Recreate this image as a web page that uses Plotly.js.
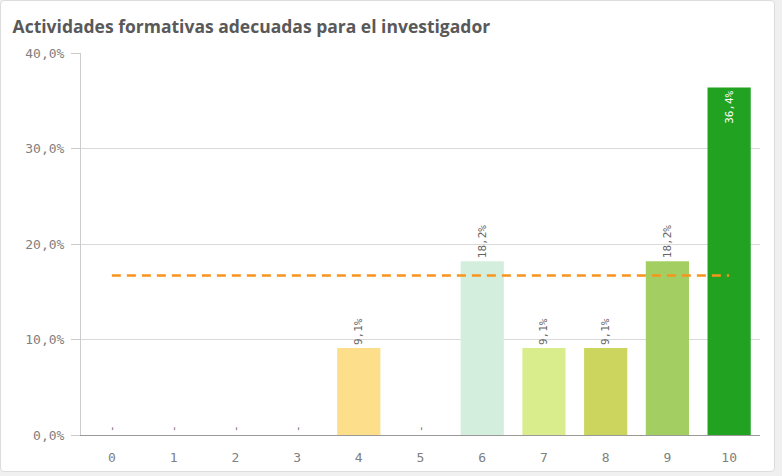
<!DOCTYPE html>
<html>
<head>
<meta charset="utf-8">
<script src="https://cdn.plot.ly/plotly-3.0.1.min.js"></script>
<style>
  html, body { margin: 0; padding: 0; background: #f0f0f0; }
  #card { position: absolute; left: 0; top: 0; width: 773px; height: 470px; background: #fff;
          border: 1px solid #dcdcdc; border-radius: 4px; overflow: hidden; }
  #chart { width: 773px; height: 470px; }
</style>
</head>
<body>
<div id="card"><div id="chart"></div></div>
<script>
const categories = ["0","1","2","3","4","5","6","7","8","9","10"];
const values = [0, 0, 0, 0, 9.1, 0, 18.2, 9.1, 9.1, 18.2, 36.4];
const barColors = ["#fddf8b","#fddf8b","#fddf8b","#fddf8b","#fddf8b","#fddf8b","#d3eedc","#d9ed8c","#ccd65f","#a3cf62","#21a221"];
const referenceValue = 16.7;
const yTicks = [0, 10, 20, 30, 40];
const yTickLabels = ["0,0%", "10,0%", "20,0%", "30,0%", "40,0%"];

const labels = values.map(v => v === 0 ? "-" : v.toFixed(1).replace(".", ",") + "%");
const insideFlags = values.map(v => v > 30);

const bars = {
  type: "bar",
  x: categories,
  y: values,
  marker: { color: barColors, line: { width: 0 } },
  text: labels,
  textposition: insideFlags.map(f => f ? "inside" : "outside"),
  insidetextanchor: "end",
  textangle: -90,
  cliponaxis: false,
  textfont: { family: "DejaVu Sans Mono, monospace", size: 11,
              color: insideFlags.map(f => f ? "#ffffff" : "#666666") },
  hoverinfo: "x+y",
  showlegend: false
};

const refLine = {
  type: "scatter",
  mode: "lines",
  x: [categories[0], categories[categories.length - 1]],
  y: [referenceValue, referenceValue],
  line: { color: "#f7941d", width: 2.5, dash: "9px,6px" },
  hoverinfo: "skip",
  showlegend: false
};

const layout = {
  width: 773,
  height: 470,
  margin: { l: 80, r: 14, t: 52, b: 36 },
  paper_bgcolor: "rgba(0,0,0,0)",
  plot_bgcolor: "#ffffff",
  bargap: 0.3,
  separators: ",.",
  font: { family: "DejaVu Sans Mono, monospace", size: 12, color: "#808080" },
  title: {
    text: "<b>Actividades formativas adecuadas para el investigador</b>",
    x: 0.015, xanchor: "left", y: 0.958, yanchor: "top",
    font: { family: "Open Sans, sans-serif", size: 17.5, color: "#595959" }
  },
  xaxis: {
    type: "category",
    showgrid: false,
    showline: true,
    linecolor: "#999999",
    linewidth: 1,
    ticks: "",
    ticklen: 0,
    ticklabelstandoff: 10,
    tickfont: { family: "DejaVu Sans Mono, monospace", size: 13, color: "#808080" },
    fixedrange: true
  },
  yaxis: {
    range: [0, 40],
    tickvals: yTicks,
    ticktext: yTickLabels,
    showgrid: true,
    gridcolor: "#d9d9d9",
    gridwidth: 1,
    zeroline: false,
    showline: true,
    linecolor: "#cccccc",
    ticks: "outside",
    ticklen: 9,
    tickcolor: "#cccccc",
    ticklabelstandoff: 4,
    tickfont: { family: "DejaVu Sans Mono, monospace", size: 13, color: "#808080" },
    fixedrange: true
  }
};

Plotly.newPlot("chart", [bars, refLine], layout, { displayModeBar: false, staticPlot: true });
</script>
</body>
</html>
